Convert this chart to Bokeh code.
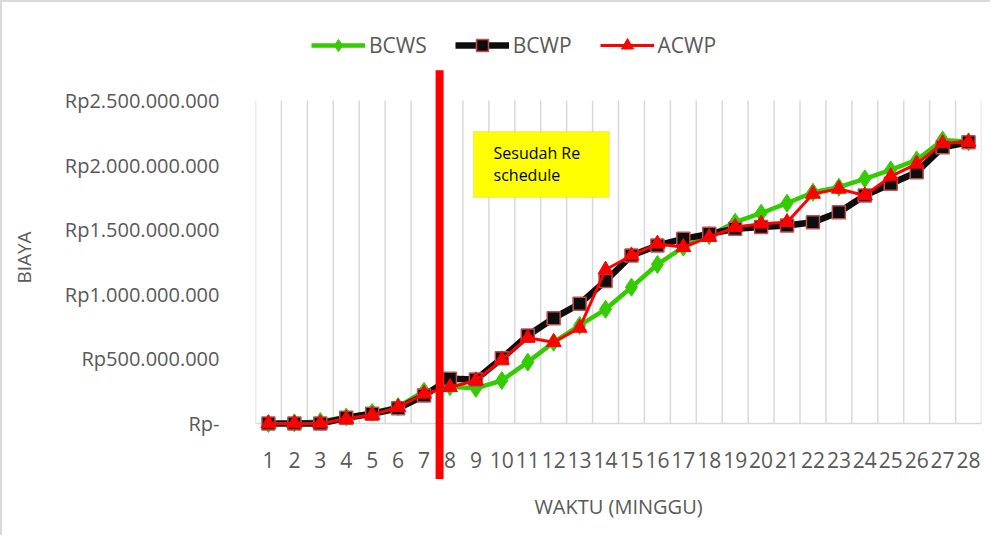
from bokeh.plotting import figure
from bokeh.models import (FixedTicker, Legend, LegendItem, BoxAnnotation, Label,
                          ColumnDataSource)
from bokeh.core.properties import value
from bokeh.embed import file_html
from bokeh.resources import INLINE
import math

# ---------------- data (values in millions of Rupiah) ----------------
weeks = list(range(1, 29))
bcws = [0, 5, 15, 50, 85, 130, 250, 285, 272, 333, 475, 629, 759, 884,
        1055, 1231, 1365, 1455, 1558, 1628, 1705, 1790, 1829, 1894, 1963, 2040, 2195, 2180]
bcwp = [0, 0, 0, 44, 75, 118, 217, 346, 340, 505, 681, 815, 926, 1103,
        1300, 1378, 1429, 1468, 1507, 1520, 1532, 1558, 1635, 1765, 1855, 1945, 2138, 2177]
acwp = [0, 0, 0, 36, 67, 126, 230, 281, 333, 493, 663, 629, 740, 1190,
        1300, 1391, 1365, 1442, 1520, 1546, 1558, 1777, 1816, 1765, 1912, 2010, 2169, 2177]
y_ticks = [0, 500, 1000, 1500, 2000, 2500]
y_tick_labels = ["Rp-", "Rp500.000.000", "Rp1.000.000.000", "Rp1.500.000.000",
                 "Rp2.000.000.000", "Rp2.500.000.000"]
series_names = ["BCWS", "BCWP", "ACWP"]
reschedule_week = 7.6
note_lines = ["Sesudah Re", "schedule"]
y_title = "BIAYA"
x_title = "WAKTU (MINGGU)"

FONT = "Open Sans"
GREY_TXT = "#595959"
GRID = "#D9D9D9"

Y_MAX = y_ticks[-1]
# frame is taller than the value area so the legend above it stays visible
PLOT_H = 323          # px used by 0 .. Y_MAX
FRAME_H = 395         # px of the whole frame
y_top = Y_MAX * FRAME_H / PLOT_H
x_lo, x_hi = weeks[0] - 0.5, weeks[-1] + 0.5
PX_PER_WEEK = 726 / (x_hi - x_lo)

p = figure(width=990, height=535, output_backend="svg", toolbar_location=None,
           x_range=(x_lo, x_hi), y_range=(0, y_top),
           min_border_left=253, min_border_right=11, min_border_top=26, min_border_bottom=114)
p.styles = {"border-left": "2px solid #D9D9D9", "border-top": "2px solid #D9D9D9"}
p.outline_line_color = None
p.background_fill_color = "white"

# axes
p.xaxis.ticker = FixedTicker(ticks=weeks)
p.xaxis.major_label_overrides = {w: str(w) for w in weeks}
p.xaxis.axis_line_color = GRID
p.xaxis.axis_line_width = 1.5
p.xaxis.major_tick_line_color = None
p.xaxis.minor_tick_line_color = None
p.xaxis.major_label_standoff = 22
p.xaxis.major_label_text_font = FONT
p.xaxis.major_label_text_font_size = "21px"
p.xaxis.major_label_text_color = GREY_TXT
p.xaxis.axis_label = x_title
p.xaxis.axis_label_text_font = FONT
p.xaxis.axis_label_text_font_size = "20px"
p.xaxis.axis_label_text_font_style = "normal"
p.xaxis.axis_label_text_color = GREY_TXT
p.xaxis.axis_label_standoff = 22

p.yaxis.ticker = FixedTicker(ticks=y_ticks)
p.yaxis.major_label_overrides = dict(zip(y_ticks, y_tick_labels))
p.yaxis.axis_line_color = None
p.yaxis.major_tick_line_color = None
p.yaxis.minor_tick_line_color = None
p.yaxis.major_label_standoff = 30
p.yaxis.major_label_text_font = FONT
p.yaxis.major_label_text_font_size = "20px"
p.yaxis.major_label_text_color = GREY_TXT

# y title, centred on the value area (232 px left of the frame), drawn unclipped
p.text(x=[x_lo - 232 / PX_PER_WEEK], y=[Y_MAX * 166 / PLOT_H], text=[y_title],
       angle=math.pi / 2, text_align="center", text_baseline="middle",
       text_font=value(FONT), text_font_size="19px", text_color=GREY_TXT, level="overlay")

# grid: vertical lines at category boundaries only, spanning the value area
p.xgrid.grid_line_color = None
p.ygrid.grid_line_color = None
bounds = [w - 0.5 for w in weeks] + [x_hi]
p.segment(x0=bounds, y0=[0] * len(bounds), x1=bounds, y1=[Y_MAX] * len(bounds),
          line_color=GRID, line_width=1.5, level="underlay")

src = ColumnDataSource(dict(x=weeks, bcws=bcws, bcwp=bcwp, acwp=acwp))

l1 = p.line("x", "bcws", source=src, line_color="#33CC00", line_width=4.5, level="overlay")
m1 = p.scatter("x", "bcws", source=src, marker="diamond", size=18, fill_color="#33CC00",
               line_color="#33CC00", level="overlay")
l2 = p.line("x", "bcwp", source=src, line_color="#0D0D0D", line_width=6.5, level="overlay")
m2 = p.scatter("x", "bcwp", source=src, marker="square", size=13, fill_color="#0D0D0D",
               line_color="#C0504D", line_width=1.5, level="overlay")
l3 = p.line("x", "acwp", source=src, line_color="#FF0000", line_width=3, level="overlay")
m3 = p.scatter("x", "acwp", source=src, marker="triangle", size=15, fill_color="#FF0000",
               line_color="#FF0000", level="overlay")

# re-schedule marker line (extends beyond the value area)
p.segment(x0=[reschedule_week], y0=[-430], x1=[reschedule_week], y1=[2735],
          line_color="#FF0000", line_width=8, level="overlay")

# note box
p.add_layout(BoxAnnotation(left=8.9, right=14.15, bottom=1750, top=2260,
                           fill_color="#FFFF00", fill_alpha=1.0,
                           line_color="#BFBFBF", line_width=1.5))
for txt, yy in zip(note_lines, [2097, 1920]):
    p.add_layout(Label(x=9.68, y=yy, text=txt, text_baseline="middle",
                       text_font=FONT, text_font_size="16px", text_color="#000000"))

legend = Legend(items=[LegendItem(label=series_names[0], renderers=[l1, m1]),
                       LegendItem(label=series_names[1], renderers=[l2, m2]),
                       LegendItem(label=series_names[2], renderers=[l3, m3])],
                orientation="horizontal", location=(56, 363),
                glyph_width=54, glyph_height=30, label_standoff=4, spacing=28,
                padding=0, margin=0, border_line_color=None, background_fill_alpha=0,
                label_text_font=FONT, label_text_font_size="21px", label_text_color=GREY_TXT)
p.add_layout(legend, "center")

open("out.html", "w").write(file_html(p, INLINE))
